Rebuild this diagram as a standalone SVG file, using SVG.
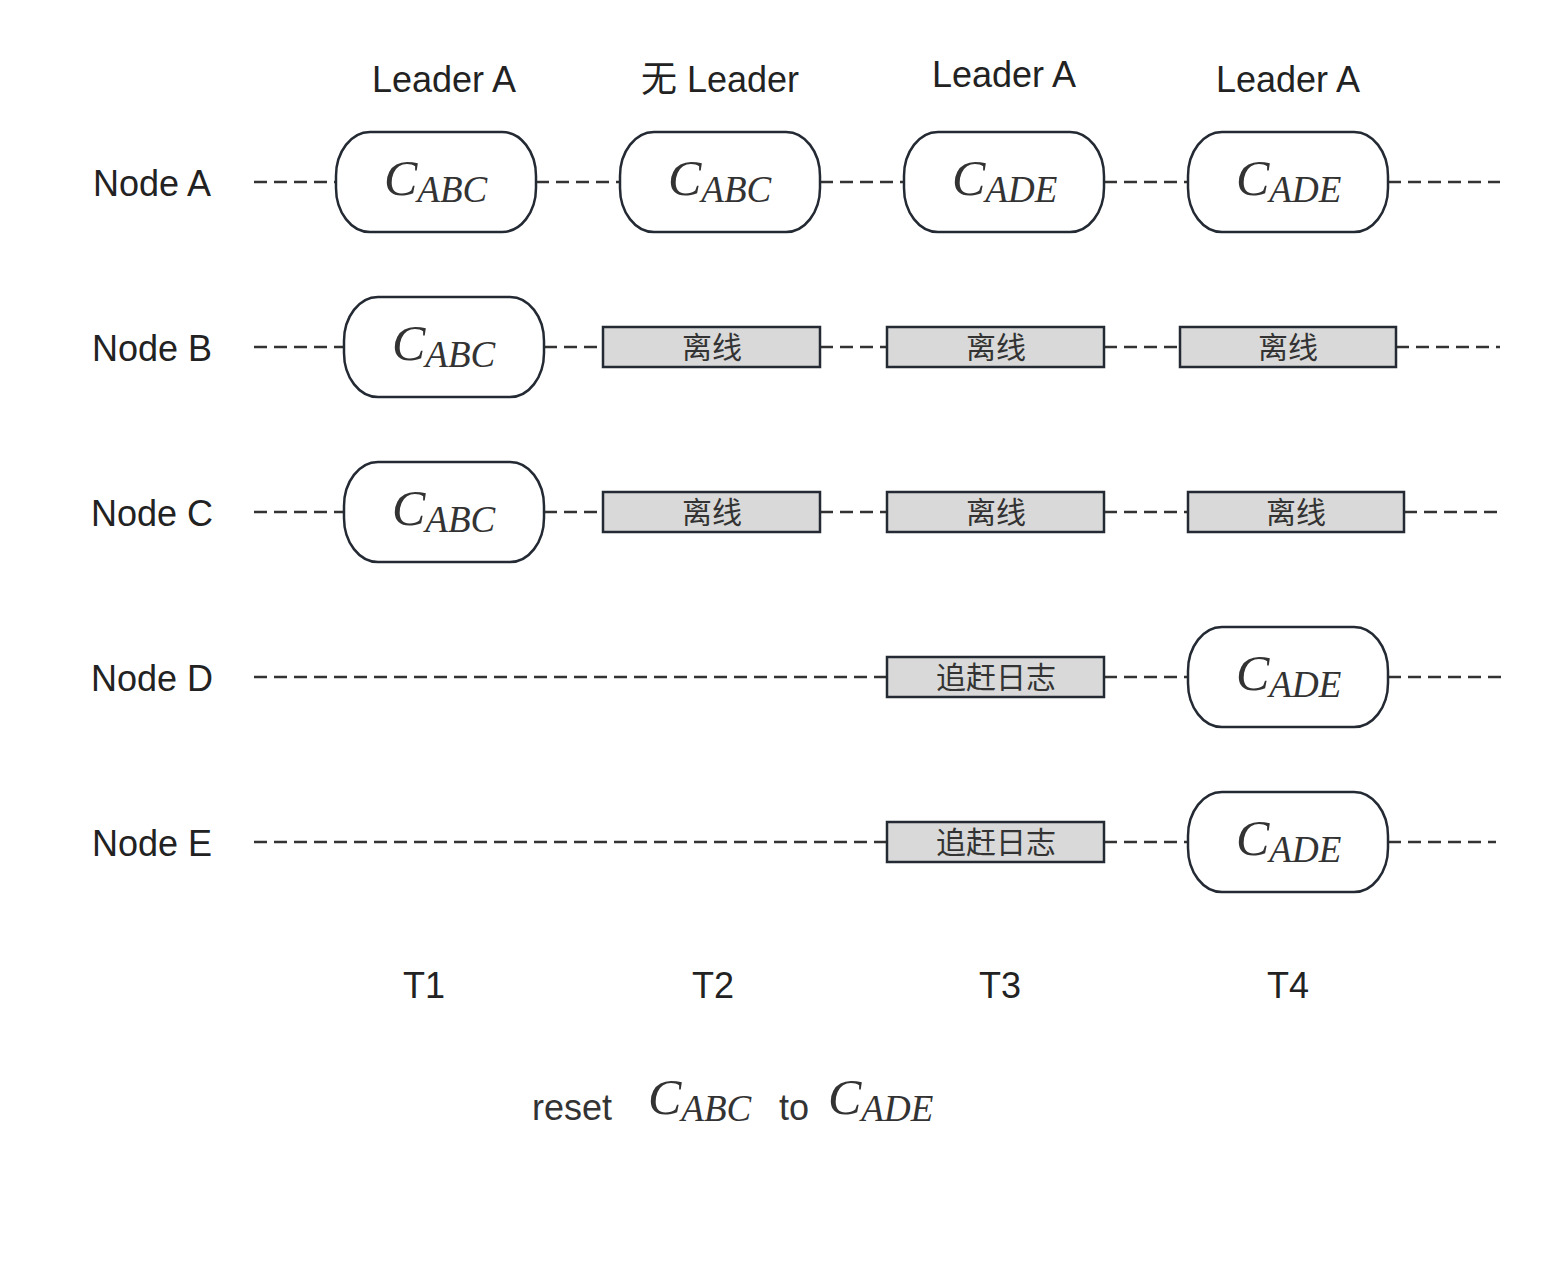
<svg xmlns="http://www.w3.org/2000/svg" width="1554" height="1270" viewBox="0 0 1554 1270">
<style>
.bg{fill:#fff}
.lbl{font-family:"Liberation Sans","Noto Sans CJK SC",sans-serif;font-size:36px;fill:#222;text-anchor:middle}
.cn{font-family:"Liberation Sans","Noto Sans CJK SC",sans-serif;font-size:30px;fill:#333;text-anchor:middle}
.m{font-family:"Liberation Serif","DejaVu Serif",serif;font-style:italic;fill:#333}
.rn{fill:#fff;stroke:#242a33;stroke-width:2.5}
.bx{fill:#d9d9d9;stroke:#242a33;stroke-width:2.5}
.dl{stroke:#333;stroke-width:2.5;stroke-dasharray:13 7;fill:none}
</style>
<rect class="bg" x="0" y="0" width="1554" height="1270"/>
<g id="labels">
<text class="lbl" x="444" y="92">Leader A</text>
<text class="lbl" x="720" y="92">无 Leader</text>
<text class="lbl" x="1004" y="87">Leader A</text>
<text class="lbl" x="1288" y="92">Leader A</text>
<text class="lbl" x="152" y="196">Node A</text>
<text class="lbl" x="152" y="361">Node B</text>
<text class="lbl" x="152" y="526">Node C</text>
<text class="lbl" x="152" y="691">Node D</text>
<text class="lbl" x="152" y="856">Node E</text>
<text class="lbl" x="424" y="998">T1</text>
<text class="lbl" x="713" y="998">T2</text>
<text class="lbl" x="1000" y="998">T3</text>
<text class="lbl" x="1288" y="998">T4</text>
</g>
<g id="connectors">
<line class="dl" x1="254" y1="182" x2="336" y2="182"/>
<line class="dl" x1="536" y1="182" x2="620" y2="182"/>
<line class="dl" x1="820" y1="182" x2="904" y2="182"/>
<line class="dl" x1="1104" y1="182" x2="1188" y2="182"/>
<line class="dl" x1="1388" y1="182" x2="1500" y2="182"/>
<line class="dl" x1="254" y1="347" x2="344" y2="347"/>
<line class="dl" x1="544" y1="347" x2="603" y2="347"/>
<line class="dl" x1="820" y1="347" x2="887" y2="347"/>
<line class="dl" x1="1104" y1="347" x2="1180" y2="347"/>
<line class="dl" x1="1396" y1="347" x2="1500" y2="347"/>
<line class="dl" x1="254" y1="512" x2="344" y2="512"/>
<line class="dl" x1="544" y1="512" x2="603" y2="512"/>
<line class="dl" x1="820" y1="512" x2="887" y2="512"/>
<line class="dl" x1="1104" y1="512" x2="1188" y2="512"/>
<line class="dl" x1="1404" y1="512" x2="1504" y2="512"/>
<line class="dl" x1="254" y1="677" x2="887" y2="677"/>
<line class="dl" x1="1104" y1="677" x2="1188" y2="677"/>
<line class="dl" x1="1388" y1="677" x2="1504" y2="677"/>
<line class="dl" x1="254" y1="842" x2="887" y2="842"/>
<line class="dl" x1="1104" y1="842" x2="1188" y2="842"/>
<line class="dl" x1="1388" y1="842" x2="1496" y2="842"/>
</g>
<g id="a1"><rect class="rn" x="336" y="132" width="200" height="100" rx="34" ry="44"/><text class="m" x="384" y="195"><tspan font-size="50">C</tspan><tspan font-size="37" dy="7">ABC</tspan></text></g>
<g id="a2"><rect class="rn" x="620" y="132" width="200" height="100" rx="34" ry="44"/><text class="m" x="668" y="195"><tspan font-size="50">C</tspan><tspan font-size="37" dy="7">ABC</tspan></text></g>
<g id="a3"><rect class="rn" x="904" y="132" width="200" height="100" rx="34" ry="44"/><text class="m" x="952" y="195"><tspan font-size="50">C</tspan><tspan font-size="37" dy="7">ADE</tspan></text></g>
<g id="a4"><rect class="rn" x="1188" y="132" width="200" height="100" rx="34" ry="44"/><text class="m" x="1236" y="195"><tspan font-size="50">C</tspan><tspan font-size="37" dy="7">ADE</tspan></text></g>
<g id="b1"><rect class="rn" x="344" y="297" width="200" height="100" rx="34" ry="44"/><text class="m" x="392" y="360"><tspan font-size="50">C</tspan><tspan font-size="37" dy="7">ABC</tspan></text></g>
<g id="b2"><rect class="bx" x="603" y="327" width="217" height="40"/><text class="cn" x="712" y="358">离线</text></g>
<g id="b3"><rect class="bx" x="887" y="327" width="217" height="40"/><text class="cn" x="996" y="358">离线</text></g>
<g id="b4"><rect class="bx" x="1180" y="327" width="216" height="40"/><text class="cn" x="1288" y="358">离线</text></g>
<g id="c1"><rect class="rn" x="344" y="462" width="200" height="100" rx="34" ry="44"/><text class="m" x="392" y="525"><tspan font-size="50">C</tspan><tspan font-size="37" dy="7">ABC</tspan></text></g>
<g id="c2"><rect class="bx" x="603" y="492" width="217" height="40"/><text class="cn" x="712" y="523">离线</text></g>
<g id="c3"><rect class="bx" x="887" y="492" width="217" height="40"/><text class="cn" x="996" y="523">离线</text></g>
<g id="c4"><rect class="bx" x="1188" y="492" width="216" height="40"/><text class="cn" x="1296" y="523">离线</text></g>
<g id="d3"><rect class="bx" x="887" y="657" width="217" height="40"/><text class="cn" x="996" y="688">追赶日志</text></g>
<g id="d4"><rect class="rn" x="1188" y="627" width="200" height="100" rx="34" ry="44"/><text class="m" x="1236" y="690"><tspan font-size="50">C</tspan><tspan font-size="37" dy="7">ADE</tspan></text></g>
<g id="e3"><rect class="bx" x="887" y="822" width="217" height="40"/><text class="cn" x="996" y="853">追赶日志</text></g>
<g id="e4"><rect class="rn" x="1188" y="792" width="200" height="100" rx="34" ry="44"/><text class="m" x="1236" y="855"><tspan font-size="50">C</tspan><tspan font-size="37" dy="7">ADE</tspan></text></g>
<g id="caption">
<text class="lbl" x="572" y="1120" style="fill:#333">reset</text>
<text class="m" x="648" y="1114"><tspan font-size="50">C</tspan><tspan font-size="37" dy="7">ABC</tspan></text>
<text class="lbl" x="794" y="1120" style="fill:#333">to</text>
<text class="m" x="828" y="1114"><tspan font-size="50">C</tspan><tspan font-size="37" dy="7">ADE</tspan></text>
</g>
</svg>
